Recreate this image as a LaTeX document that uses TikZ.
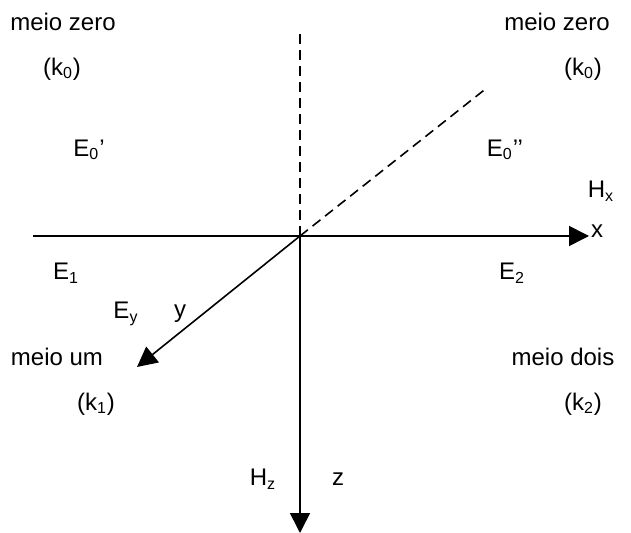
\documentclass[tikz,border=0pt]{standalone}
\usepackage{fontspec}
\setmainfont{Liberation Sans}
\usepackage{tikz}
\usetikzlibrary{arrows.meta,positioning}

\begin{document}
\begin{tikzpicture}[
  x=0.5pt,y=-0.5pt,
  font=\fontsize{12}{14}\selectfont,
  lbl/.style={inner sep=0pt,anchor=center},
  axis/.style={line width=0.8pt,-{Triangle[length=10pt,width=10pt]}},
  guide/.style={line width=0.8pt,dash pattern=on 5pt off 3pt}
]
\useasboundingbox (0,0) rectangle (631,533);

% ---- Axis points ----
\coordinate (o)    at (300,236);
\coordinate (xl)   at (33,236);
\coordinate (xend) at (589,236);
\coordinate (yend) at (137,367);
\coordinate (zend) at (300,533);
\coordinate (top)  at (300,30);
\coordinate (diag) at (488,87);

% ---- Axes ----
\draw[line width=0.8pt] (xl) -- (o);
\draw[axis] (o) -- (xend);
\draw[axis] (o) -- (yend);
\draw[axis] (o) -- (zend);
\draw[guide] (o) -- (top);
\draw[guide] (o) -- (diag);

% ---- Media ----
\node[lbl] (m0l) at (63,22)  {meio zero};
\node[lbl] (k0l) at (62,69)  {(k\textsubscript{0})};
\node[lbl] (m0r) at (557,22) {meio zero};
\node[lbl] (k0r) at (583,69) {(k\textsubscript{0})};
\node[lbl] (m1)  at (57,357) {meio um};
\node[lbl] (k1)  at (96,404) {(k\textsubscript{1})};
\node[lbl] (m2)  at (563,357) {meio dois};
\node[lbl] (k2)  at (583,404) {(k\textsubscript{2})};

% ---- Fields and axis names ----
\node[lbl] (e0a) at (89,150)  {E\textsubscript{0}’};
\node[lbl] (e0b) at (505,150) {E\textsubscript{0}’’};
\node[lbl] (hx)  at (601,191) {H\textsubscript{x}};
\node[lbl] (xn)  at (597,231) {x};
\node[lbl] (e1)  at (66,273)  {E\textsubscript{1}};
\node[lbl] (e2)  at (512,273) {E\textsubscript{2}};
\node[lbl] (ey)  at (126,314) {E\textsubscript{y}};
\node[lbl] (yn)  at (180,314) {y};
\node[lbl] (hz)  at (263,479) {H\textsubscript{z}};
\node[lbl] (zn)  at (338,479) {z};
\end{tikzpicture}
\end{document}
